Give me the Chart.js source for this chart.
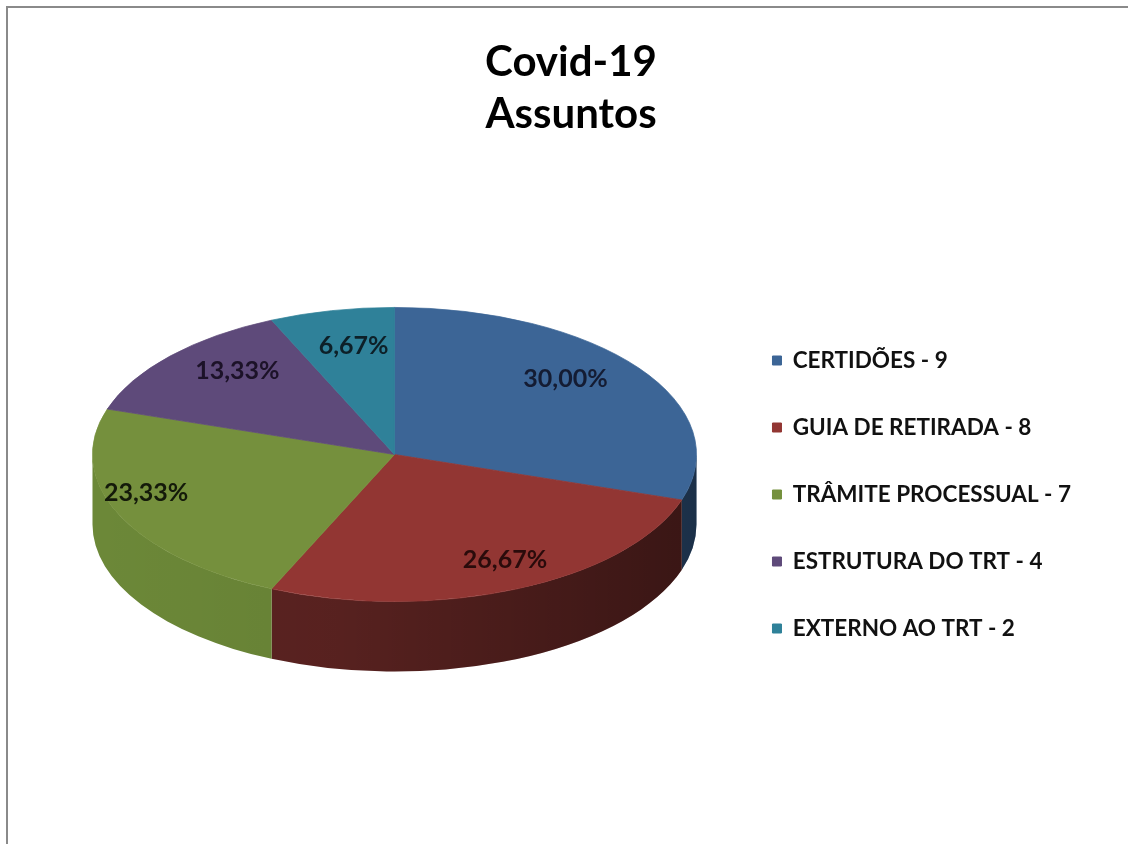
<!DOCTYPE html>
<html>
<head>
<meta charset="utf-8">
<script src="https://cdn.jsdelivr.net/npm/chart.js@4/dist/chart.umd.min.js"></script>
<style>
html,body{margin:0;padding:0;background:#fff;overflow:hidden;}
#frame{position:absolute;left:6px;top:6px;width:1200px;height:900px;border-top:2px solid #8a8a8a;border-left:2px solid #8a8a8a;}
#chartBox{position:absolute;left:0;top:0;width:1124px;height:836px;}
</style>
</head>
<body>
<div id="frame"><div id="chartBox"><canvas id="pie_chart"></canvas></div></div>
<script>
// dados do grafico
const categorias=['CERTIDÕES','GUIA DE RETIRADA','TRÂMITE PROCESSUAL','ESTRUTURA DO TRT','EXTERNO AO TRT'];
const valores=[9,8,7,4,2];
const titulo=['Covid-19','Assuntos'];

// cores (topo, lateral, texto do rotulo)
const cores=['#3c6596','#923633','#75903d','#5e4a7a','#2f8199'];
const coresLado=['#2c4d74','#5c2321','#6c8838','#4a3a60','#246a7e'];
const coresTexto=['#141c33','#2a0b0b','#141a0a','#1c1228','#0d2028'];

const legendas=categorias.map((c,i)=>c+' - '+valores[i]);
const total=valores.reduce((a,b)=>a+b,0);

// plugin pra fazer a pizza "3D" (achata e desenha a lateral)
const pizza3d={
	id:'pizza3d',
	beforeDatasetsDraw(chart,args,opts){
		const ctx=chart.ctx;
		const meta=chart.getDatasetMeta(0);
		const a0=meta.data[0];
		const cx=a0.x,cy=a0.y,r=a0.outerRadius;
		const k=opts.tilt,depth=opts.depth;
		ctx.save();
		ctx.translate(0,cy-depth/2);
		ctx.scale(1,k);
		ctx.translate(0,-cy);
		const dy=depth/k;
		meta.data.forEach((arc,i)=>{
			const p=arc.getProps(['startAngle','endAngle'],true);
			const s=Math.max(p.startAngle,0);
			const e=Math.min(p.endAngle,Math.PI);
			if(e<=s) return;
			ctx.beginPath();
			ctx.arc(cx,cy,r,s,e);
			ctx.arc(cx,cy+dy,r,e,s,true);
			ctx.closePath();
			ctx.fillStyle=coresLado[i];
			ctx.fill();
			// sombra da esquerda pra direita
			const g=ctx.createLinearGradient(cx-r,0,cx+r,0);
			g.addColorStop(0,'rgba(0,0,0,0)');
			g.addColorStop(0.4,'rgba(0,0,0,0.05)');
			g.addColorStop(1,'rgba(0,0,0,0.38)');
			ctx.fillStyle=g;
			ctx.fill();
		});
	},
	afterDatasetsDraw(chart,args,opts){
		const ctx=chart.ctx;
		ctx.restore();
		const meta=chart.getDatasetMeta(0);
		const k=opts.tilt,depth=opts.depth;
		ctx.save();
		ctx.font='bold 25px Lato';
		ctx.textAlign='center';
		ctx.textBaseline='middle';
		meta.data.forEach((arc,i)=>{
			const p=arc.getProps(['x','y','startAngle','endAngle','outerRadius'],true);
			const mid=(p.startAngle+p.endAngle)/2;
			const f=opts.labelPos[i];
			const x=p.x+Math.cos(mid)*p.outerRadius*f;
			const y=p.y-depth/2-opts.lift+Math.sin(mid)*p.outerRadius*f*k;
			const pct=(valores[i]/total*100).toFixed(2).replace('.',',')+'%';
			ctx.fillStyle=coresTexto[i];
			ctx.fillText(pct,x,y);
		});
		ctx.restore();
	}
};

const ctx=document.getElementById('pie_chart').getContext('2d');
const grafico=new Chart(ctx,{
	type:'pie',
	data:{
		labels:legendas,
		datasets:[{
			data:valores,
			backgroundColor:cores,
			borderColor:cores,
			borderWidth:1,
			radius:302
		}]
	},
	options:{
		responsive:true,
		maintainAspectRatio:false,
		animation:false,
		events:[],
		layout:{padding:{left:53,right:51,top:0,bottom:5}},
		plugins:{
			title:{
				display:true,
				text:titulo,
				color:'#000',
				font:{family:'Lato',size:42,weight:'bold',lineHeight:52/42},
				padding:{top:28,bottom:0}
			},
			legend:{
				position:'right',
				title:{display:true,text:'',font:{size:10,lineHeight:1},padding:{top:0,bottom:132}},
				labels:{
					boxWidth:9,
					boxHeight:9,
					padding:44.5,
					color:'#111',
					font:{family:'Lato',size:22.5,weight:'bold'}
				}
			},
			tooltip:{enabled:false},
			pizza3d:{tilt:0.487,depth:70,lift:15,labelPos:[0.70,0.9,0.9,0.70,0.65]}
		}
	},
	plugins:[pizza3d]
});
</script>
</body>
</html>
